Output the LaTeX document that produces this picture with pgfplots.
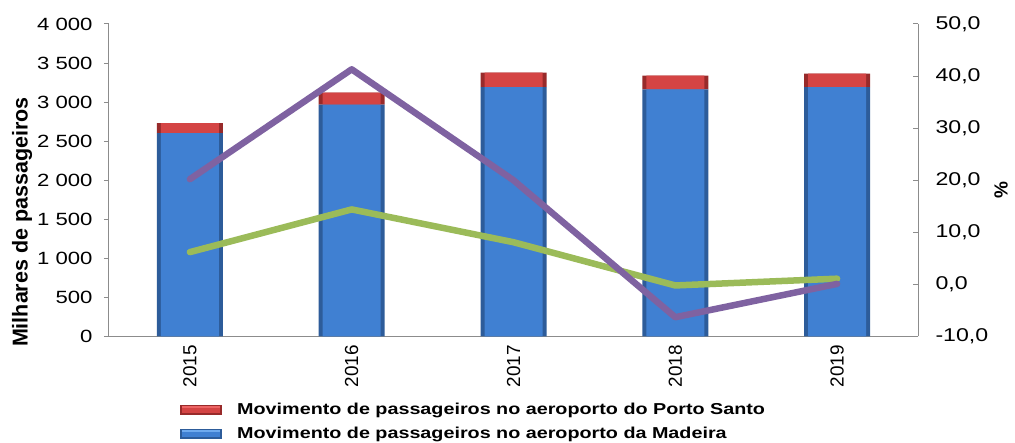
\documentclass[border=0pt]{standalone}
\usepackage{pgfplots}
\usepackage{pgfplotstable}
\pgfplotsset{compat=1.18}
\usepackage{fontspec}
\setmainfont{Liberation Sans}[FakeStretch=1.25]
\newfontfamily\plainsans{Liberation Sans}
\definecolor{axgray}{HTML}{8C8C8C}
\definecolor{bluedark}{HTML}{2D5C9A}
\definecolor{bluemid}{HTML}{4080D2}
\definecolor{bluelight}{HTML}{6FAAEE}
\definecolor{redlight}{HTML}{EC6464}
\definecolor{redmid}{HTML}{D44444}
\definecolor{reddark}{HTML}{982A2A}
\definecolor{lpurple}{HTML}{7F62A1}
\definecolor{lgreen}{HTML}{9BBB59}
\pgfplotstableread{
x madeira porto
0 2604 128
1 2967 153
2 3192 184
3 3163 175
4 3192 172
}\bars
\pgfplotstableread{
x madeiravar portovar
0 6.2 20.2
1 14.4 41.3
2 8.1 20.0
3 -0.2 -6.3
4 1.1 0.1
}\rates
\pgfplotsset{
  common/.style={at={(0,0)}, anchor=south west, scale only axis, width=809pt, height=312.5pt, xmin=-0.5, xmax=4.5},
}
\begin{document}
\begin{tikzpicture}
\begin{axis}[
  common, ymin=0, ymax=4000,
  ybar stacked, bar width=66pt,
  axis x line*=bottom, axis y line*=left,
  axis line style={axgray, line width=1pt},
  xtick={0,1,2,3,4}, xticklabels={2015,2016,2017,2018,2019},
  x tick style={draw=none},
  xticklabel style={rotate=90, anchor=east, font=\plainsans\fontsize{18.9}{20}\selectfont},
  extra x ticks={-0.5,0.5,1.5,2.5,3.5,4.5}, extra x tick labels={},
  extra x tick style={major tick length=6pt, tick align=outside, tick style={draw=axgray, line width=1pt}},
  ytick={0,500,...,4000},
  yticklabels={0,500,1 000,1 500,2 000,2 500,3 000,3 500,4 000},
  y tick style={draw=axgray, line width=1pt}, tick align=outside, major tick length=5pt,
  yticklabel style={font=\fontsize{17.7}{20}\selectfont, xshift=-8pt},
  ylabel={Milhares de passageiros},
  ylabel style={at={(axis description cs:-0.1075,0.366)}, anchor=center, font=\plainsans\bfseries\fontsize{21.5}{24}\selectfont},
  legend style={at={(axis description cs:0.0878,-0.2064)}, anchor=north west, draw=none, fill=none,
    font=\bfseries\fontsize{15.8}{18}\selectfont, row sep=7pt, column sep=13pt, inner sep=0pt},
  reverse legend, legend cell align=left,
]
\addplot[fill=bluedark, draw=none,
  legend image code/.code={\path[fill=bluedark] (0pt,-5pt) rectangle (42pt,5pt); \path[fill=bluemid] (2pt,-3pt) rectangle (40pt,3pt); \path[fill=bluelight] (2pt,2pt) rectangle (40pt,4pt);}]
  table[x=x, y=madeira] {\bars};
\addlegendentry{Movimento de passageiros no aeroporto da Madeira}
\addplot[fill=reddark, draw=none,
  legend image code/.code={\path[fill=reddark] (0pt,-5pt) rectangle (42pt,5pt); \path[fill=redmid] (2pt,-3pt) rectangle (40pt,3pt); \path[fill=redlight] (2pt,2pt) rectangle (40pt,4pt);}]
  table[x=x, y=porto] {\bars};
\addlegendentry{Movimento de passageiros no aeroporto do Porto Santo}
\end{axis}
\begin{axis}[
  common, ymin=0, ymax=4000, hide axis,
  ybar stacked, bar width=58pt,
]
\addplot[fill=bluemid, draw=none] table[x=x, y=madeira] {\bars};
\addplot[fill=redmid, draw=none] table[x=x, y=porto] {\bars};
\end{axis}
\begin{axis}[
  common, ymin=-10, ymax=50,
  axis x line=none, axis y line*=right,
  axis line style={axgray, line width=1pt},
  ytick={-10,0,...,50},
  yticklabels={{-10,0},{0,0},{10,0},{20,0},{30,0},{40,0},{50,0}},
  y tick style={draw=axgray, line width=1pt}, tick align=inside, major tick length=5pt,
  yticklabel style={font=\fontsize{18.5}{20}\selectfont, xshift=14pt},
  ylabel={\%},
  ylabel style={at={(axis description cs:1.1026,0.469)}, anchor=center, font=\plainsans\bfseries\fontsize{19}{22}\selectfont},
  clip=false,
]
\addplot[lgreen, line width=6.5pt, line join=round, line cap=round] table[x=x, y=madeiravar] {\rates};
\addplot[lpurple, line width=6.5pt, line join=round, line cap=round] table[x=x, y=portovar] {\rates};
\end{axis}
\path (-109pt,-106.5pt) rectangle (906pt,336.5pt);
\end{tikzpicture}
\end{document}
